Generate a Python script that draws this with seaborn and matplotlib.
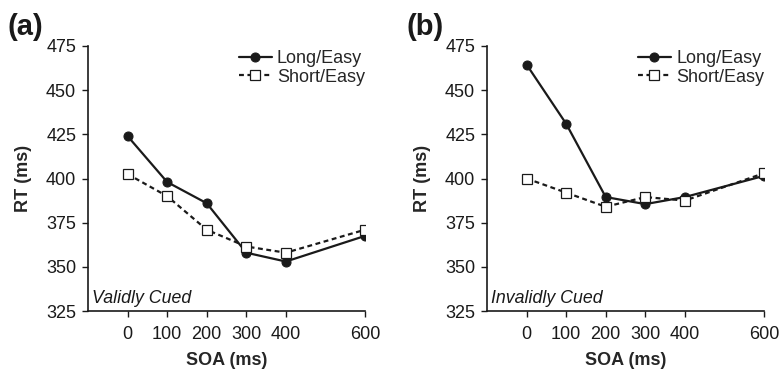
import numpy as np
import pandas as pd
import matplotlib
matplotlib.use("Agg")
import matplotlib.pyplot as plt
import seaborn as sns

sns.set_style("ticks")
plt.rcParams["font.family"] = ["Liberation Sans", "DejaVu Sans"]

soa = [0, 100, 200, 300, 400, 600]

# panel (a) validly cued
valid_long = [424, 398, 386, 358, 353, 367.5]
valid_short = [402.5, 390, 371, 361.5, 358, 371]

# panel (b) invalidly cued
invalid_long = [464.5, 431, 389.5, 385.5, 389.5, 401.5]
invalid_short = [400, 392, 384, 389.5, 387.5, 403]

panel_tags = ["(a)", "(b)"]
cue_labels = ["Validly Cued", "Invalidly Cued"]
y_ticks = [325, 350, 375, 400, 425, 450, 475]

fig = plt.figure(figsize=(7.8, 3.71), dpi=100)
ax_a = fig.add_axes([88 / 780, 60 / 371, 277 / 780, 265 / 371])
ax_b = fig.add_axes([487 / 780, 60 / 371, 277 / 780, 265 / 371])

panels = [(ax_a, valid_long, valid_short), (ax_b, invalid_long, invalid_short)]

for i, (ax, long_vals, short_vals) in enumerate(panels):
    df = pd.DataFrame({"SOA": soa, "long": long_vals, "short": short_vals})
    sns.lineplot(data=df, x="SOA", y="long", ax=ax, color="#1a1a1a", lw=1.6,
                 marker="o", markersize=6.5, markerfacecolor="#1a1a1a",
                 markeredgecolor="#1a1a1a", label="Long/Easy")
    sns.lineplot(data=df, x="SOA", y="short", ax=ax, color="#1a1a1a", lw=1.6,
                 linestyle=(0, (2.2, 1.6)), marker="s", markersize=7.5,
                 markerfacecolor="white", markeredgecolor="#1a1a1a",
                 markeredgewidth=0.9, label="Short/Easy")

    ax.set_xlim(-100, 600)
    ax.set_ylim(325, 475)
    ax.set_xticks(soa)
    ax.set_yticks(y_ticks)
    ax.tick_params(direction="out", length=4.5, width=1, labelsize=13, colors="#1a1a1a")
    ax.tick_params(axis="x", pad=6)
    ax.tick_params(axis="y", pad=4)
    for s in ["left", "bottom"]:
        ax.spines[s].set_linewidth(1.2)
        ax.spines[s].set_color("#1a1a1a")
    sns.despine(ax=ax)
    ax.set_xlabel("SOA (ms)", fontsize=13, fontweight="bold")
    ax.set_ylabel("RT (ms)", fontsize=13, fontweight="bold")
    ax.xaxis.set_label_coords(0.5, -0.155)
    ax.yaxis.set_label_coords(-0.202, 0.5)

    ax.text(0.015, 0.015, cue_labels[i], transform=ax.transAxes, fontsize=12.8,
            style="italic", ha="left", va="bottom", color="#1a1a1a")
    ax.text(-0.292, 1.072, panel_tags[i], transform=ax.transAxes, fontsize=21,
            fontweight="bold", ha="left", va="center", color="#1a1a1a")

    ax.legend(loc="upper right", frameon=False, fontsize=13, handlelength=1.8,
              handletextpad=0.3, labelspacing=0.1, borderaxespad=0.0,
              borderpad=0.0, bbox_to_anchor=(1.0, 0.985))

fig.savefig("out.png", dpi=100)
